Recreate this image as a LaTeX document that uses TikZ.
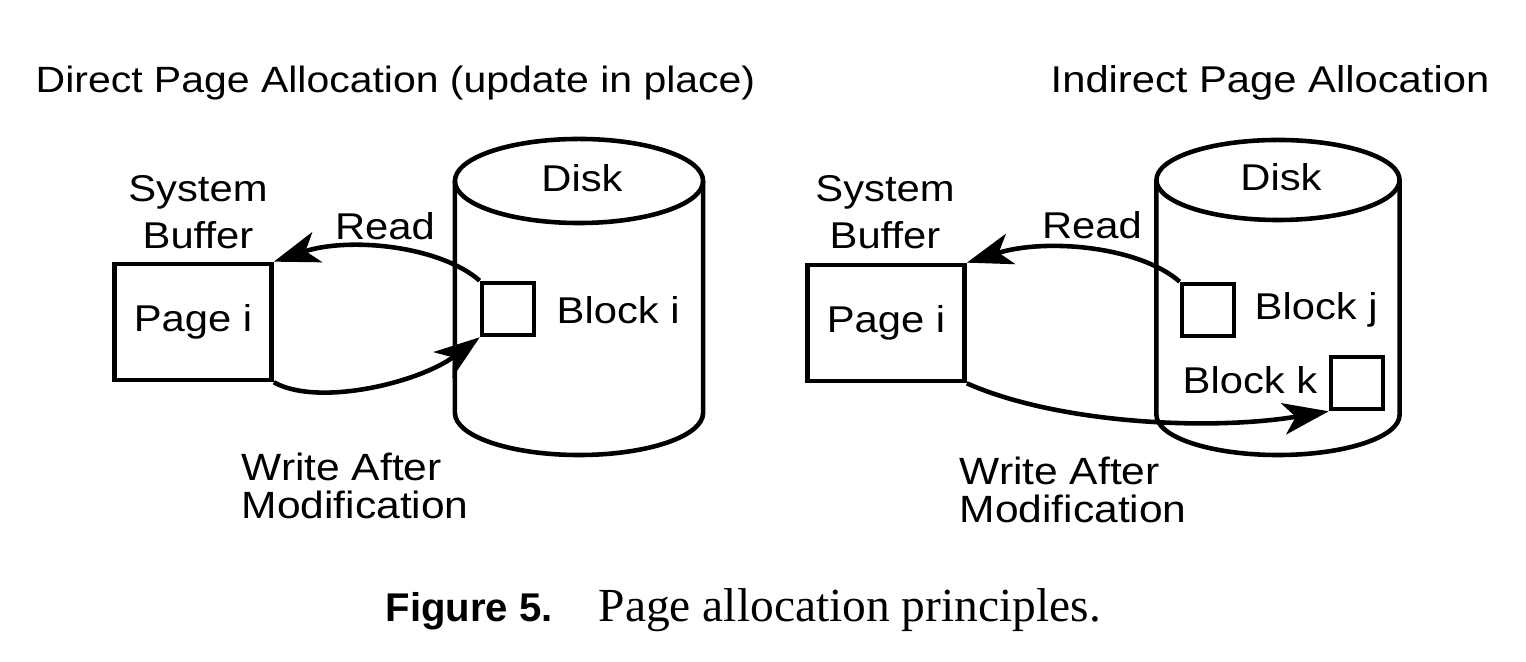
\documentclass[tikz,border=0pt]{standalone}
\usepackage{fontspec}
\setmainfont{Liberation Serif}
\setsansfont{Liberation Sans}
\newfontfamily\diagfont[FakeStretch=1.12]{Liberation Sans}
\usetikzlibrary{arrows.meta}

\begin{document}
\begin{tikzpicture}[x=0.01cm,y=-0.01cm,
    font=\diagfont\fontsize{10.6}{13.4}\selectfont,
    every node/.style={inner sep=0pt},
    page/.style={draw,line width=1.3pt,minimum width=1.57cm,minimum height=1.16cm},
    blk/.style={draw,line width=1.3pt,minimum size=0.52cm},
    diskline/.style={line width=1.3pt},
    twoline/.style={align=left,font=\diagfont\fontsize{10.8}{10.8}\selectfont},
    flow/.style={line width=1.3pt,-{Stealth[length=13pt,width=9pt,inset=3.5pt]}}]
  \useasboundingbox (0,0) rectangle (1526,662);

  \node[anchor=west,font=\diagfont\fontsize{10.4}{12}\selectfont] (DirTitle) at (35,83) {Direct Page Allocation (update in place)};
  \node[align=center] (SysA) at (198,212) {System\\Buffer};
  \node[page] (PageA) at (193,322) {Page i};
  \coordinate (DiskA) at (579,181);
  \draw[diskline] (DiskA) ellipse [x radius=1.24cm, y radius=0.42cm];
  \draw[diskline] ([xshift=-1.24cm]DiskA) -- ++(0,232)
    arc [start angle=180, end angle=360, x radius=1.24cm, y radius=0.42cm] -- ++(0,-232);
  \node (DiskALbl) at (582,178) {Disk};
  \node[blk] (BlkI) at (508,309) {};
  \node[anchor=west] (BlkILbl) at (556,310) {Block i};
  \node (ReadA) at (385,226) {Read};
  \node[anchor=west,twoline] (WriteA) at (241,486) {Write After\\Modification};

  \draw[flow] (BlkI.north west) .. controls +(-40,-35) and +(75,-25) .. (PageA.north east);
  \draw[flow] (PageA.south east) .. controls +(45,25) and +(-60,45) .. (BlkI.south west);

  \node[font=\diagfont\fontsize{10.6}{12}\selectfont] (IndTitle) at (1270,83) {Indirect Page Allocation};
  \node[align=center] (SysB) at (885,212) {System\\Buffer};
  \node[page] (PageB) at (886,323) {Page i};
  \coordinate (DiskB) at (1278,180);
  \draw[diskline] (DiskB) ellipse [x radius=1.215cm, y radius=0.40cm];
  \draw[diskline] ([xshift=-1.215cm]DiskB) -- ++(0,235)
    arc [start angle=180, end angle=360, x radius=1.215cm, y radius=0.40cm] -- ++(0,-235);
  \node (DiskBLbl) at (1281,177) {Disk};
  \node[blk] (BlkJ) at (1208,310) {};
  \node[anchor=west] (BlkJLbl) at (1254,310) {Block j};
  \node[blk] (BlkK) at (1357,383) {};
  \node[anchor=east] (BlkKLbl) at (1318,380) {Block k};
  \node (ReadB) at (1092,225) {Read};
  \node[anchor=west,twoline] (WriteB) at (959,490) {Write After\\Modification};

  \draw[flow] (BlkJ.north west) .. controls +(-40,-35) and +(80,-25) .. (PageB.north east);
  \draw[flow] (PageB.south east) .. controls +(90,40) and +(-120,20) .. (BlkK.south west);

  \node[anchor=base west,font=\sffamily\bfseries\fontsize{11.4}{13}\selectfont] (FigNum) at (385,622) {Figure 5.};
  \node[anchor=base west,font=\rmfamily\fontsize{13.5}{15}\selectfont] (FigCap) at (598,622) {Page allocation principles.};
\end{tikzpicture}
\end{document}
